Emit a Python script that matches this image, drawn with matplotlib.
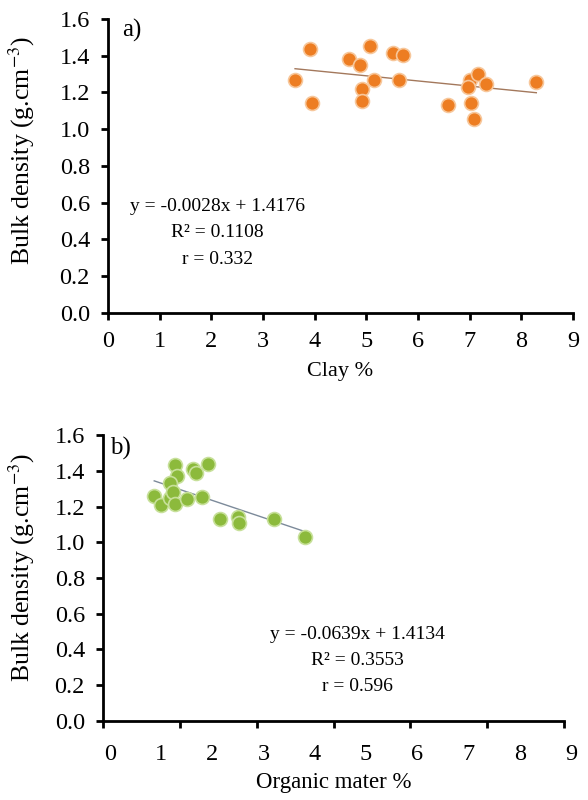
import matplotlib
matplotlib.use('Agg')
import matplotlib.pyplot as plt
import matplotlib.transforms as mtransforms
import numpy as np

plt.rcParams['font.family'] = ['Liberation Serif', 'DejaVu Serif']
plt.rcParams['mathtext.fontset'] = 'stix'

# panel a) clay % vs bulk density
clay = [3.62, 3.91, 3.94, 4.66, 4.87, 4.91, 4.91, 5.08, 5.15, 5.52,
        5.70, 5.63, 6.58, 7.00, 6.97, 7.03, 7.09, 7.16, 7.31, 8.29]
bd_clay = [1.266, 1.438, 1.143, 1.384, 1.348, 1.221, 1.154, 1.451, 1.266, 1.417,
           1.406, 1.266, 1.130, 1.266, 1.230, 1.143, 1.054, 1.299, 1.245, 1.257]

# panel b) organic matter % vs bulk density
om = [1.41, 1.76, 1.82, 2.04, 1.45, 1.31, 1.00, 1.13, 1.31, 1.37,
      1.41, 1.63, 1.93, 2.29, 2.63, 2.66, 3.33, 3.95]
bd_om = [1.432, 1.408, 1.389, 1.441, 1.370, 1.333, 1.258, 1.208, 1.245, 1.282,
         1.213, 1.240, 1.251, 1.128, 1.139, 1.105, 1.128, 1.030]

eq_a = 'y = -0.0028x + 1.4176\nR² = 0.1108\nr = 0.332'
eq_b = 'y = -0.0639x + 1.4134\nR² = 0.3553\nr = 0.596'

yticks = np.arange(0, 1.61, 0.2)

fig = plt.figure(figsize=(5.88, 8.0), dpi=100)
ax1 = fig.add_axes([0.1837, 0.6088, 0.7908, 0.3675])
ax2 = fig.add_axes([0.1752, 0.0991, 0.784, 0.357])

TICK = 17.5


def style(ax):
    for s in ['top', 'right']:
        ax.spines[s].set_visible(False)
    for s in ['left', 'bottom']:
        ax.spines[s].set_linewidth(2)
    ax.set_ylim(0, 1.6)
    ax.set_xlim(0, 9)
    ax.set_yticks(yticks)
    ax.set_yticklabels(['%.1f' % v for v in yticks])
    ax.tick_params(axis='both', direction='out', length=5, width=2,
                   labelsize=TICK, pad=8)
    ax.set_ylabel('Bulk density (g.cm$^{-3}$)', fontsize=18.5)


# top chart
style(ax1)
ax1.set_xticks(range(10))
ax1.scatter(clay, bd_clay, s=100, color='#ED7D22', edgecolors='#F7C79B',
            linewidths=1.2, zorder=3)
k, b = np.polyfit(clay, bd_clay, 1)
xs = np.array([min(clay), max(clay)])
ax1.plot(xs, k * xs + b, color='#A3785C', lw=1, zorder=2)
ax1.text(0.235, 0.272, eq_a, transform=ax1.transAxes, ha='center', va='center',
         fontsize=14, linespacing=1.7)
ax1.text(0.03, 0.96, 'a)', transform=ax1.transAxes, fontsize=18, va='center')
ax1.set_xlabel('Clay %', fontsize=16, labelpad=7)
ax1.yaxis.set_label_coords(-0.153, 0.554)

# bottom chart: major ticks every 1.5, labels 0..9 on integer positions
style(ax2)
ax2.xaxis.remove_overlapping_locs = False
ax2.set_xticks(np.arange(0, 9.01, 1.5))
ax2.set_xticklabels([])
ax2.set_xticks(range(10), minor=True)
ax2.set_xticklabels([str(i) for i in range(10)], minor=True)
ax2.tick_params(axis='x', which='minor', length=0, labelsize=TICK, pad=17)
offset = mtransforms.ScaledTranslation(7 / 100, 0, fig.dpi_scale_trans)
for lab in ax2.xaxis.get_minorticklabels():
    lab.set_transform(lab.get_transform() + offset)
ax2.scatter(om, bd_om, s=100, color='#8CBA3C', edgecolors='#C7E09A',
            linewidths=1.2, zorder=3)
k, b = np.polyfit(om, bd_om, 1)
xs = np.array([min(om), max(om)])
ax2.plot(xs, k * xs + b, color='#7C8A9A', lw=1, zorder=2)
ax2.text(0.551, 0.212, eq_b, transform=ax2.transAxes, ha='center', va='center',
         fontsize=14, linespacing=1.7)
ax2.text(0.015, 0.955, 'b)', transform=ax2.transAxes, fontsize=18, va='center')
ax2.set_xlabel('Organic mater %', fontsize=16.5, labelpad=5)
ax2.yaxis.set_label_coords(-0.143, 0.538)

fig.savefig('out.png', dpi=100)
